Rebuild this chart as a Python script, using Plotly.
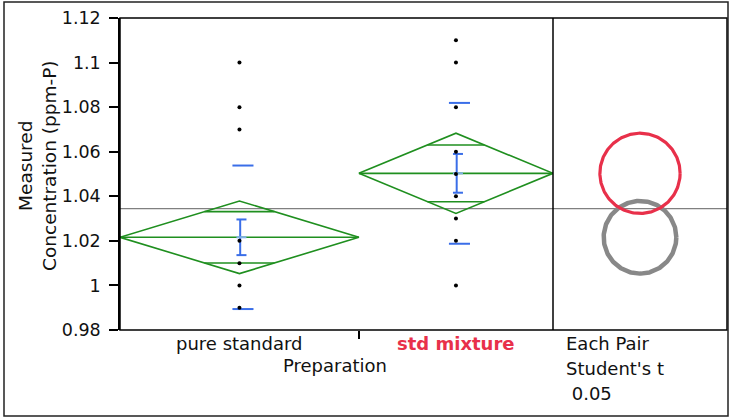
import numpy as np
import plotly.graph_objects as go

# ---- data ----
groups = ["pure standard", "std mixture"]
group_n = [16, 13]                      # sample sizes (set category widths)
group_mean = [1.0216, 1.0503]
group_ci95 = [0.0163, 0.0180]           # half-width of 95% CI of the mean
group_sd = [0.0322, 0.0316]
group_se = [0.0080, 0.0087]
pure_values = [1.10, 1.08, 1.07, 1.02, 1.01, 1.00, 0.99]
mixture_values = [1.11, 1.10, 1.08, 1.06, 1.05, 1.04, 1.03, 1.02, 1.00]
group_values = [pure_values, mixture_values]
y_ticks = [0.98, 1.00, 1.02, 1.04, 1.06, 1.08, 1.10, 1.12]
y_tick_text = ["0.98", "1", "1.02", "1.04", "1.06", "1.08", "1.1", "1.12"]
circle_colors = ["#888888", "#e8304a"]
circle_widths = [4.5, 3.2]
label_colors = ["#111111", "#e8304a"]
test_lines = ["Each Pair", "Student's t", "&nbsp;0.05"]

# ---- geometry ----
W, H = 730, 419
M_L, M_R, M_T, M_B = 120, 3, 18, 89
plot_w = W - M_L - M_R
plot_h = H - M_T - M_B
split = 433 / plot_w
y_lo, y_hi = y_ticks[0], y_ticks[-1]

FONT = "DejaVu Sans"
GREEN = "#1f8f1f"
BLUE = "#3a6ee8"


def paper_x(px):
    return (px - M_L) / plot_w


def paper_y(py):
    return 1 - (py - M_T) / plot_h


edges = np.concatenate([[0], np.cumsum(group_n)])
grand_mean = float(np.dot(group_n, group_mean) / np.sum(group_n))

fig = go.Figure()

for i, name in enumerate(groups):
    left, right = edges[i], edges[i + 1]
    c = (left + right) / 2
    half = (right - left) / 2
    m, ci = group_mean[i], group_ci95[i]
    d = ci / np.sqrt(2)
    w = half * (1 - d / ci)

    # means diamond, mean line and overlap marks
    xs = [left, c, right, c, left, None, left, right, None,
          c - w, c + w, None, c - w, c + w]
    ys = [m, m + ci, m, m - ci, m, None, m, m, None,
          m + d, m + d, None, m - d, m - d]
    fig.add_trace(go.Scatter(x=xs, y=ys, mode="lines",
                             line=dict(color=GREEN, width=1.6),
                             hoverinfo="skip", showlegend=False))

    # std dev lines, std error bar with caps
    sd, se = group_sd[i], group_se[i]
    ex = c + 0.05
    bx = [c - 0.47, c + 0.94, None, c - 0.47, c + 0.94, None,
          ex, ex, None, c - 0.2, c + 0.47, None, c - 0.2, c + 0.47]
    by = [m + sd, m + sd, None, m - sd, m - sd, None,
          m - se, m + se, None, m + se, m + se, None, m - se, m - se]
    fig.add_trace(go.Scatter(x=bx, y=by, mode="lines",
                             line=dict(color=BLUE, width=2),
                             hoverinfo="skip", showlegend=False))
    fig.add_trace(go.Scatter(x=[c - 0.2, c + 0.47], y=[m, m], mode="lines",
                             line=dict(color="#7fb0e8", width=2),
                             hoverinfo="skip", showlegend=False))

    # observations
    vals = group_values[i]
    fig.add_trace(go.Scatter(x=[c] * len(vals), y=vals, mode="markers",
                             marker=dict(color="black", size=4),
                             name=name, showlegend=False))

# comparison circles (Student's t, each pair)
px_per_unit = plot_h / (y_hi - y_lo)
half_x2 = plot_w * (1 - split) / 2 / px_per_unit
t = np.linspace(0, 2 * np.pi, 240)
for i in range(len(groups)):
    r = group_ci95[i]
    fig.add_trace(go.Scatter(x=r * np.cos(t), y=group_mean[i] + r * np.sin(t),
                             xaxis="x2", yaxis="y", mode="lines",
                             line=dict(color=circle_colors[i], width=circle_widths[i]),
                             hoverinfo="skip", showlegend=False))

shapes = [
    # grand mean across both panels
    dict(type="line", xref="paper", yref="y", x0=0, x1=1, y0=grand_mean, y1=grand_mean,
         line=dict(color="#808080", width=1.3), layer="below"),
    # plot frame and panel divider
    dict(type="rect", xref="paper", yref="paper", x0=0, x1=1, y0=0, y1=1,
         line=dict(color="black", width=1.5)),
    dict(type="line", xref="paper", yref="paper", x0=split, x1=split, y0=0, y1=1,
         line=dict(color="black", width=1.5)),
    # outer border
    dict(type="rect", xref="paper", yref="paper",
         x0=paper_x(4), x1=paper_x(728), y0=paper_y(416), y1=paper_y(2),
         line=dict(color="#222222", width=1.5)),
]

annotations = []
for i, name in enumerate(groups):
    c = (edges[i] + edges[i + 1]) / 2
    text = f"<b>{name}</b>" if i == 1 else name
    annotations.append(dict(x=c, xref="x", y=paper_y(343), yref="paper", text=text,
                            showarrow=False, xanchor="center", yanchor="middle",
                            font=dict(family=FONT, size=18, color=label_colors[i])))
annotations.append(dict(x=paper_x(335), y=paper_y(365), xref="paper", yref="paper",
                        text="Preparation", showarrow=False,
                        xanchor="center", yanchor="middle",
                        font=dict(family=FONT, size=18, color="#111111")))
for k, line in enumerate(test_lines):
    annotations.append(dict(x=paper_x(564), y=paper_y(343 + 25 * k),
                            xref="paper", yref="paper", text=line,
                            showarrow=False, xanchor="left", yanchor="middle",
                            font=dict(family=FONT, size=18, color="#111111")))
annotations.append(dict(x=paper_x(37), y=paper_y(166), xref="paper", yref="paper",
                        text="Measured<br>Concentration (ppm-P)", textangle=-90,
                        showarrow=False, xanchor="center", yanchor="middle",
                        font=dict(family=FONT, size=18.5, color="#111111")))

fig.update_layout(
    width=W, height=H,
    margin=dict(l=M_L, r=M_R, t=M_T, b=M_B, pad=0),
    paper_bgcolor="white", plot_bgcolor="white",
    showlegend=False,
    xaxis=dict(domain=[0, split], range=[edges[0], edges[-1]],
               tickvals=[edges[1]], ticks="outside", ticklen=8, tickwidth=1.5,
               tickcolor="black", showticklabels=False, showgrid=False,
               zeroline=False, showline=False),
    xaxis2=dict(domain=[split, 1], range=[-half_x2, half_x2], anchor="y",
                visible=False, showgrid=False, zeroline=False),
    yaxis=dict(range=[y_lo, y_hi], tickvals=y_ticks, ticktext=y_tick_text,
               ticks="outside", ticklen=9, tickwidth=1.5, tickcolor="black",
               showline=True, linecolor="black", linewidth=1.5,
               showgrid=False, zeroline=False, ticklabelstandoff=5,
               tickfont=dict(family=FONT, size=17.5, color="#111111")),
    shapes=shapes,
    annotations=annotations,
)

fig.write_html("out.html")
